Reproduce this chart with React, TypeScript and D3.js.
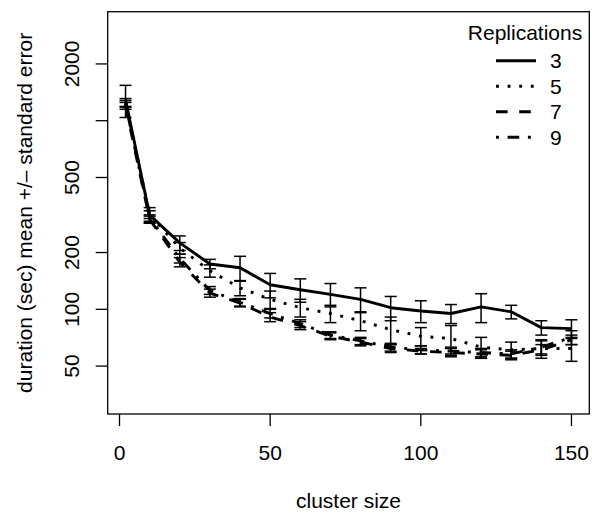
import React from "react";
import * as d3 from "d3";

const clusterSizes = [2, 10, 20, 30, 40, 50, 60, 70, 80, 90, 100, 110, 120, 130, 140, 150];
const replications = ["3", "5", "7", "9"];
const mean3 = [1290, 316, 225, 174, 166, 135, 127, 120, 113, 102, 98, 95, 103, 97, 80, 79];
const se3 = [250, 30, 20, 10, 25, 20, 18, 17, 17, 15, 13, 11, 18, 8, 7, 9];
const mean5 = [1250, 318, 211, 160, 130, 113, 102, 95, 87, 78, 72, 70, 63, 61, 62, 62];
const se5 = [60, 15, 15, 12, 12, 12, 11, 10, 10, 13, 8, 12, 8, 6, 7, 9];
const mean7 = [1200, 300, 178, 122, 108, 91, 82, 72, 67, 62, 60, 59, 58, 57, 61, 69];
const se7 = [50, 12, 10, 6, 5, 5, 4, 3, 3, 3, 2, 3, 3, 3, 4, 4];
const mean9 = [1230, 305, 186, 126, 109, 95, 84, 73, 68, 63, 61, 60, 59, 58, 63, 71];
const se9 = [50, 12, 10, 6, 5, 5, 4, 3, 3, 3, 3, 3, 3, 3, 5, 6];
const yTicks = [50, 100, 200, 500, 1000, 2000];
const yTickLabels = ["50", "100", "200", "500", "", "2000"];
const xTicks = [0, 50, 100, 150];

const series = [
  { name: replications[0], mean: mean3, se: se3, dash: null },
  { name: replications[1], mean: mean5, se: se5, dash: "2.9 8.7" },
  { name: replications[2], mean: mean7, se: se7, dash: "11.6 11.6" },
  { name: replications[3], mean: mean9, se: se9, dash: "2.9 8.7 11.6 8.7" },
];

export default function App() {
  const W = 592, H = 514;
  const left = 107.7, right = 589.3, top = 11.7, bottom = 414;
  const x = d3.scaleLinear().domain([-3.92, 155.92]).range([left, right]);
  const y = d3.scaleLog().domain([27.86, 3784]).range([bottom, top]);
  const font = "Liberation Sans, Arial, Helvetica, sans-serif";
  const fs = 21;
  const line = d3.line<number>();

  return (
    <svg width={W} height={H} style={{ position: "absolute", left: 0, top: 0 }} fontFamily={font}>
      <rect x={0} y={0} width={W} height={H} fill="white" />
      {/* error bars */}
      {series.map((s) => (
        <g key={"eb" + s.name} stroke="black" strokeWidth={1.5} fill="none">
          {clusterSizes.map((c, i) => {
            const cx = x(c);
            const y1 = y(s.mean[i] - s.se[i]);
            const y2 = y(s.mean[i] + s.se[i]);
            return (
              <g key={i}>
                <line x1={cx} x2={cx} y1={y1} y2={y2} />
                <line x1={cx - 6} x2={cx + 6} y1={y1} y2={y1} />
                <line x1={cx - 6} x2={cx + 6} y1={y2} y2={y2} />
              </g>
            );
          })}
        </g>
      ))}
      {/* lines */}
      {series.map((s) => (
        <path
          key={"ln" + s.name}
          d={line(clusterSizes.map((c, i) => [x(c), y(s.mean[i])]) as any) || ""}
          fill="none"
          stroke="black"
          strokeWidth={2.9}
          strokeDasharray={s.dash || undefined}
          strokeLinejoin="round"
        />
      ))}
      {/* box */}
      <rect x={left} y={top} width={right - left} height={bottom - top} fill="none" stroke="black" strokeWidth={1.3} />
      {/* x axis */}
      <g>
        {xTicks.map((t) => (
          <g key={t}>
            <line x1={x(t)} x2={x(t)} y1={bottom} y2={bottom + 12} stroke="black" strokeWidth={1.3} />
            <text x={x(t)} y={460} textAnchor="middle" fontSize={fs}>{t}</text>
          </g>
        ))}
        <text x={(left + right) / 2} y={508} textAnchor="middle" fontSize={fs}>cluster size</text>
      </g>
      {/* y axis */}
      <g>
        {yTicks.map((t, i) => (
          <g key={t}>
            <line x1={left - 12} x2={left} y1={y(t)} y2={y(t)} stroke="black" strokeWidth={1.3} />
            {yTickLabels[i] && (
              <text transform={`translate(79,${y(t)}) rotate(-90)`} textAnchor="middle" fontSize={fs}>
                {yTickLabels[i]}
              </text>
            )}
          </g>
        ))}
        <text transform={`translate(32,${(top + bottom) / 2}) rotate(-90)`} textAnchor="middle" fontSize={fs}>
          duration (sec) mean +/– standard error
        </text>
      </g>
      {/* legend */}
      <g>
        <text x={525} y={40} textAnchor="middle" fontSize={fs}>Replications</text>
        {series.map((s, i) => {
          const ly = 60.7 + i * 25.5;
          return (
            <g key={"lg" + s.name}>
              <line x1={496} x2={536} y1={ly} y2={ly} stroke="black" strokeWidth={2.9} strokeDasharray={s.dash || undefined} />
              <text x={550} y={ly + 7.5} fontSize={fs}>{s.name}</text>
            </g>
          );
        })}
      </g>
    </svg>
  );
}
